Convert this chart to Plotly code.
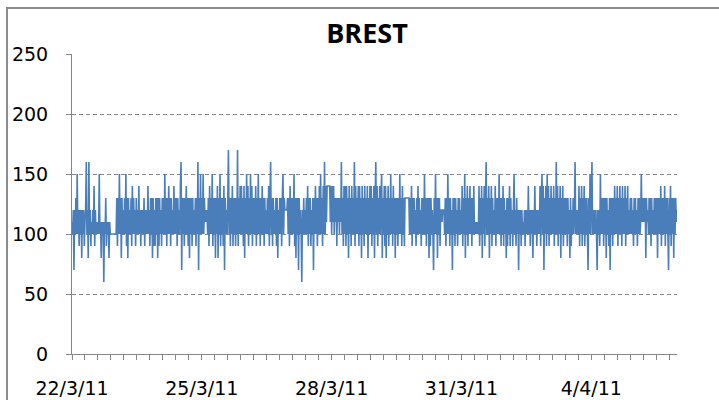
import plotly.graph_objects as go

# Category labels shown on the x axis (one every label_step points)
date_labels = ["22/3/11", "25/3/11", "28/3/11", "31/3/11", "4/4/11"]
tick_step = 20
label_step = 200

# Series values, one list per labelled interval
seg_22_25 = [
    110, 100, 120, 70, 120, 100, 130, 100, 150, 100, 120, 90, 120, 100, 120, 80, 120, 100, 120, 90,
    110, 120, 160, 100, 120, 80, 160, 100, 120, 90, 110, 100, 120, 100, 140, 90, 120, 100, 110, 100,
    110, 100, 150, 100, 110, 80, 110, 100, 110, 60, 110, 100, 130, 90, 110, 100, 110, 80, 110, 100,
    100, 100, 100, 100, 100, 100, 100, 100, 100, 130, 90, 130, 100, 150, 100, 130, 80, 130, 100, 120,
    100, 130, 100, 150, 90, 130, 80, 130, 100, 120, 100, 130, 90, 140, 100, 130, 100, 120, 90, 130,
    100, 120, 100, 140, 100, 120, 90, 120, 100, 120, 100, 130, 90, 120, 100, 120, 100, 140, 100, 120,
    90, 130, 100, 130, 80, 130, 90, 120, 90, 130, 100, 130, 80, 130, 90, 130, 100, 120, 90, 130,
    100, 130, 100, 150, 100, 130, 90, 130, 100, 140, 100, 130, 90, 130, 100, 120, 100, 140, 100, 130,
    100, 130, 90, 130, 100, 120, 100, 140, 160, 70, 130, 100, 130, 90, 130, 100, 140, 100, 130, 90,
    130, 80, 130, 100, 130, 90, 130, 100, 120, 100, 130, 90, 130, 100, 160, 70, 130, 100, 150, 100,
]
seg_25_28 = [
    130, 100, 150, 100, 130, 110, 120, 110, 120, 100, 130, 90, 140, 100, 130, 100, 150, 90, 130, 100,
    130, 80, 130, 100, 140, 80, 130, 100, 150, 90, 130, 100, 130, 90, 140, 70, 130, 100, 120, 100,
    130, 170, 100, 130, 90, 130, 100, 140, 90, 130, 100, 130, 90, 130, 100, 170, 90, 130, 100, 140,
    100, 140, 100, 130, 90, 140, 80, 130, 100, 150, 100, 140, 90, 130, 100, 150, 100, 140, 90, 130,
    100, 130, 100, 140, 90, 130, 100, 150, 100, 130, 90, 130, 100, 140, 100, 130, 90, 130, 100, 120,
    100, 130, 100, 140, 90, 130, 160, 100, 130, 90, 130, 100, 120, 100, 130, 90, 130, 80, 120, 100,
    130, 100, 130, 90, 130, 150, 100, 130, 120, 120, 120, 120, 130, 100, 130, 90, 140, 100, 130, 100,
    130, 100, 150, 90, 130, 80, 130, 100, 130, 70, 130, 100, 120, 100, 60, 120, 100, 130, 100, 120,
    100, 130, 100, 140, 90, 130, 100, 130, 90, 120, 100, 130, 70, 130, 100, 140, 100, 130, 90, 130,
    100, 140, 100, 150, 100, 130, 90, 140, 100, 160, 100, 140, 110, 140, 140, 140, 140, 140, 110, 140,
]
seg_28_31 = [
    100, 140, 110, 140, 100, 130, 110, 130, 90, 130, 110, 130, 100, 130, 110, 160, 100, 130, 90, 140,
    100, 140, 90, 140, 100, 130, 80, 140, 100, 130, 90, 140, 100, 130, 100, 160, 90, 140, 100, 130,
    100, 140, 90, 140, 100, 130, 80, 140, 100, 130, 90, 140, 100, 130, 100, 140, 80, 130, 100, 140,
    100, 140, 90, 130, 100, 140, 80, 130, 160, 100, 140, 90, 130, 100, 140, 100, 130, 150, 80, 130,
    100, 140, 90, 140, 80, 130, 100, 140, 90, 130, 100, 150, 100, 130, 90, 140, 100, 130, 80, 130,
    100, 130, 90, 130, 100, 150, 100, 130, 90, 140, 100, 130, 90, 130, 130, 130, 130, 130, 130, 130,
    100, 130, 100, 140, 90, 130, 100, 130, 100, 120, 90, 130, 100, 140, 100, 130, 100, 120, 90, 130,
    100, 130, 100, 150, 100, 130, 90, 130, 100, 130, 80, 130, 90, 130, 100, 120, 100, 70, 130, 100,
    150, 100, 130, 80, 130, 100, 130, 90, 120, 120, 110, 120, 120, 120, 100, 130, 90, 130, 100, 150,
    100, 130, 90, 130, 100, 120, 70, 130, 100, 130, 90, 130, 100, 120, 90, 130, 100, 130, 100, 120,
]
seg_31_4 = [
    100, 140, 90, 130, 100, 150, 80, 130, 100, 140, 90, 130, 100, 140, 100, 130, 90, 130, 100, 140,
    100, 110, 100, 110, 100, 110, 100, 140, 90, 130, 100, 140, 80, 130, 100, 140, 90, 130, 160, 100,
    130, 100, 140, 80, 130, 100, 140, 90, 130, 100, 120, 100, 140, 90, 130, 100, 130, 100, 150, 100,
    130, 90, 130, 100, 140, 90, 130, 100, 120, 80, 130, 90, 130, 100, 140, 90, 130, 100, 120, 90,
    120, 150, 100, 120, 90, 130, 100, 120, 70, 120, 100, 120, 90, 120, 100, 110, 100, 120, 90, 120,
    100, 120, 100, 140, 100, 120, 90, 120, 100, 120, 80, 120, 100, 140, 100, 120, 90, 120, 100, 120,
    100, 140, 90, 130, 150, 100, 140, 70, 130, 100, 140, 90, 150, 100, 140, 90, 130, 100, 140, 100,
    130, 100, 140, 90, 130, 100, 160, 100, 140, 90, 130, 100, 140, 80, 130, 100, 140, 90, 130, 100,
    130, 100, 130, 90, 130, 100, 120, 80, 130, 90, 120, 100, 130, 100, 120, 160, 100, 120, 100, 120,
    100, 140, 90, 130, 100, 140, 90, 130, 100, 140, 90, 130, 100, 130, 100, 70, 130, 100, 150, 100,
]
seg_4_end = [
    130, 160, 100, 120, 100, 120, 100, 120, 100, 70, 120, 100, 120, 90, 150, 100, 130, 100, 130, 90,
    130, 100, 130, 80, 130, 100, 120, 90, 130, 70, 130, 100, 130, 90, 130, 100, 140, 100, 130, 100,
    140, 90, 130, 100, 140, 100, 130, 90, 140, 100, 130, 100, 140, 90, 130, 100, 140, 100, 120, 100,
    130, 100, 130, 100, 120, 90, 130, 100, 130, 100, 120, 90, 130, 100, 130, 100, 110, 150, 110, 130,
    110, 130, 110, 130, 80, 130, 110, 120, 100, 130, 100, 130, 90, 130, 100, 120, 100, 130, 100, 130,
    100, 130, 80, 130, 100, 130, 100, 140, 90, 130, 100, 130, 100, 140, 90, 130, 100, 130, 100, 70,
    130, 100, 140, 90, 130, 100, 130, 80, 130, 100, 130, 110, 120,
]

values = seg_22_25 + seg_25_28 + seg_28_31 + seg_31_4 + seg_4_end
idx = list(range(len(values)))

tickvals = list(range(0, len(values), tick_step))
ticktext = [date_labels[v // label_step] if v % label_step == 0 else "" for v in tickvals]

axis_gray = "#868686"
title_font = "Open Sans, DejaVu Sans, sans-serif"
tick_font = "DejaVu Sans, sans-serif"

fig = go.Figure(
    go.Scatter(
        x=idx, y=values, mode="lines",
        line=dict(color="#4A7EBB", width=1.6, simplify=False),
        hoverinfo="skip", showlegend=False,
    )
)

fig.update_layout(
    width=719, height=400,
    margin=dict(l=72, r=42, t=54, b=46, autoexpand=False),
    paper_bgcolor="white", plot_bgcolor="white",
    title=dict(
        text="<b>BREST</b>", xref="container", yref="container",
        x=367 / 719, y=1 - 34 / 400, xanchor="center", yanchor="middle",
        font=dict(family=title_font, size=27, color="black"),
    ),
    font=dict(family=tick_font, size=19, color="black"),
    shapes=[dict(
        type="rect", xref="paper", yref="paper",
        x0=-65 / 605, x1=1.2, y0=-0.3, y1=1 + 46 / 300,
        line=dict(color="#8C8C8C", width=2), fillcolor="rgba(0,0,0,0)",
    )],
)

fig.update_yaxes(
    range=[0, 250], tickvals=[0, 50, 100, 150, 200, 250],
    showgrid=True, gridcolor=axis_gray, griddash="4px,3px", gridwidth=1,
    showline=True, linecolor=axis_gray, linewidth=1,
    ticks="outside", ticklen=5, tickcolor=axis_gray,
    zeroline=False, ticklabelstandoff=14, automargin=False,
    tickfont=dict(family=tick_font, size=19, color="black"),
)
fig.update_xaxes(
    range=[0, len(values) - 1], tickmode="array", tickvals=tickvals, ticktext=ticktext,
    showgrid=False, showline=True, linecolor=axis_gray, linewidth=1,
    ticks="outside", ticklen=5, tickcolor=axis_gray, tickangle=0,
    zeroline=False, ticklabelstandoff=12, automargin=False,
    tickfont=dict(family=tick_font, size=19, color="black"),
)

fig.write_html(
    "out.html",
    config={"displayModeBar": False, "staticPlot": True},
    post_script="document.body.style.margin='0';document.body.style.padding='0';",
)
